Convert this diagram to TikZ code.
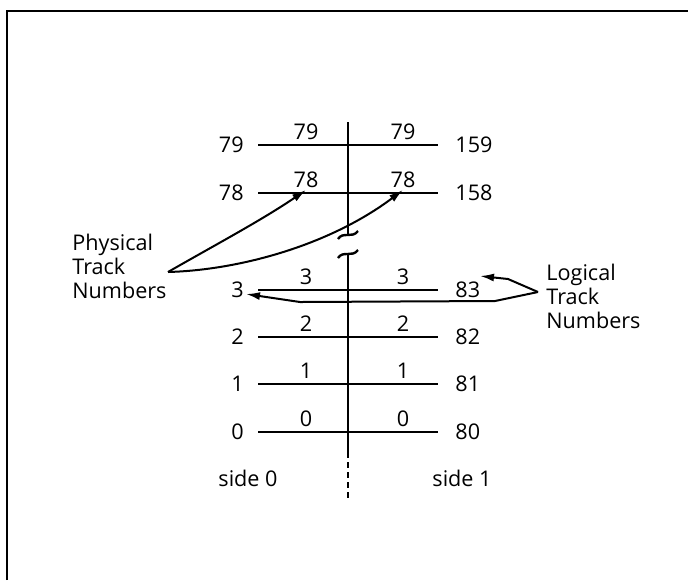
\documentclass[tikz,border=0pt]{standalone}
\usepackage{fontspec}
\setmainfont{Open Sans}
\usetikzlibrary{arrows.meta}
\tikzset{
  track/.style={line width=1.2pt},
  ptr/.style={line width=1pt,-{Latex[length=7pt,width=4pt]}},
  lbl/.style={inner sep=1pt},
}
\begin{document}
\begin{tikzpicture}[x=0.5pt,y=-0.5pt,font=\fontsize{10.8}{12}\selectfont]
\useasboundingbox (0,0) rectangle (688,580);
\draw[line width=1pt] (7,580) -- (7,11) -- (688,11);
% tracks, side 0 and side 1
\foreach \y/\p/\l in {145/79/159, 193/78/158, 290/3/83, 337/2/82, 384/1/81, 432/0/80} {
  \draw[track] (258,\y) -- (438,\y);
  \node[lbl,anchor=east] (l\p) at (246,\y) {\p};
  \node[lbl,anchor=west] (r\p) at (453,\y) {\l};
  \node[lbl,anchor=south] (a\p) at (306,\y-3) {\p};
  \node[lbl,anchor=south] (b\p) at (403,\y-3) {\p};
}
% spindle with break
\draw[track] (348,122) -- (348,234);
\draw[track] (338,239) .. controls (343,231) and (352,239) .. (358,231);
\draw[track] (338,258) .. controls (343,250) and (352,258) .. (358,250);
\draw[track] (348,254) -- (348,452);
\draw[track,dash pattern=on 3pt off 2pt] (348,452) -- (348,498);
\node (side0) at (248,478) {side 0};
\node (side1) at (462,478) {side 1};
% callouts
\node[align=left,anchor=west,inner sep=0pt] (phys) at (72,266) {Physical\\Track\\Numbers};
\coordinate (pfoot) at (168,272);
\draw[ptr] (pfoot) .. controls (215,245) and (262,220) .. (a78.south);
\draw[ptr] (pfoot) .. controls (240,270) and (330,245) .. (b78.south);
\node[align=left,anchor=west,inner sep=0pt] (logi) at (546,296) {Logical\\Track\\Numbers};
\coordinate (lfoot) at (538,292);
\draw[ptr] (lfoot) -- (508,279) -- (480,276);
\draw[ptr] (lfoot) -- (495,301) -- (300,302) -- ([yshift=-2pt]l3.east);
\end{tikzpicture}
\end{document}
